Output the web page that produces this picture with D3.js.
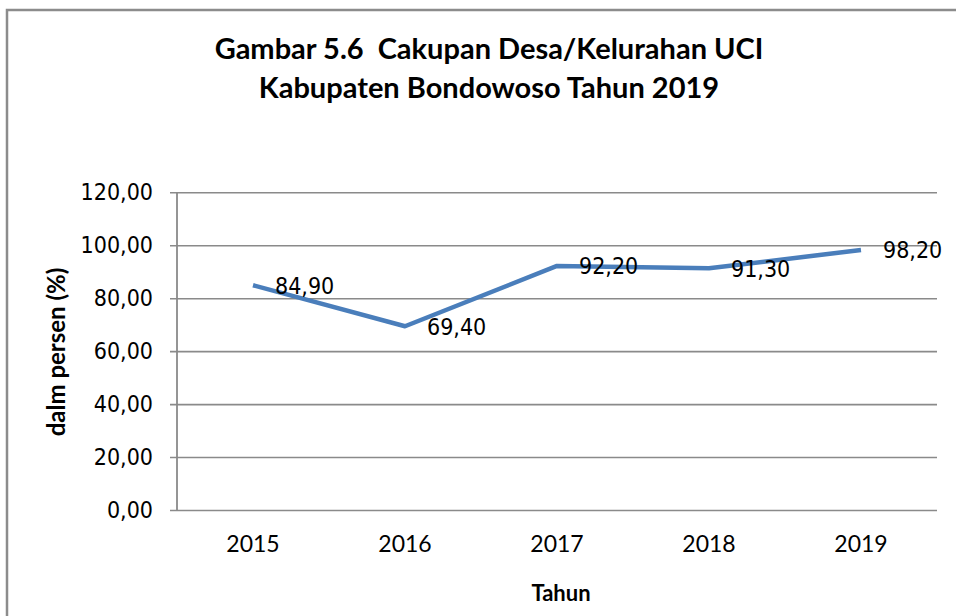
<!DOCTYPE html>
<html>
<head>
<meta charset="utf-8">
<script src="https://cdn.jsdelivr.net/npm/d3@7"></script>
<style>
  html, body { margin: 0; padding: 0; background: #fff; }
  #chart { width: 956px; height: 616px; }
</style>
</head>
<body>
<div id="chart"></div>
<script>
// Data
const years = ["2015", "2016", "2017", "2018", "2019"];
const cakupan = [84.90, 69.40, 92.20, 91.30, 98.20];
const yTicks = [0, 20, 40, 60, 80, 100, 120];
const titleLines = ["Gambar 5.6  Cakupan Desa/Kelurahan UCI", "Kabupaten Bondowoso Tahun 2019"];

const width = 956, height = 616;
const plot = { left: 177, right: 937, top: 192.3, bottom: 510 };

const colors = {
    frame: "#8c8c8c",
    grid: "#8a8a8a",
    line: "#4a7ebb",
    text: "#000"
};

const fmt = v => d3.format(".2f")(v).replace(".", ",");

const svg = d3.select("#chart").append("svg")
    .attr("width", width)
    .attr("height", height)
    .attr("viewBox", `0 0 ${width} ${height}`);

// Bingkai luar (terpotong di kanan & bawah)
svg.append("rect")
    .attr("x", 7).attr("y", 10)
    .attr("width", 1000).attr("height", 700)
    .style("fill", "#fff")
    .style("stroke", colors.frame)
    .style("stroke-width", 2.5);

// Skala
const x = d3.scaleBand().domain(years).range([plot.left, plot.right]);
const y = d3.scaleLinear().domain([0, 120]).range([plot.bottom, plot.top]);
const cx = d => x(d) + x.bandwidth() / 2;

// Grid + sumbu Y
const yAxis = svg.append("g")
    .attr("transform", `translate(${plot.left},0)`)
    .call(d3.axisLeft(y).tickValues(yTicks).tickFormat(fmt).tickSize(7).tickPadding(17))
    .call(g => g.select(".domain").remove());

yAxis.selectAll(".tick line")
    .attr("x2", plot.right - plot.left)
    .attr("x1", -7)
    .style("stroke", colors.grid)
    .style("stroke-width", 1.6);

yAxis.selectAll(".tick text")
    .style("font-family", "'DejaVu Sans Condensed', 'DejaVu Sans', sans-serif")
    .style("font-stretch", "condensed")
    .style("font-size", "23px")
    .style("fill", colors.text);

// Garis sumbu Y
svg.append("line")
    .attr("x1", plot.left).attr("x2", plot.left)
    .attr("y1", plot.top).attr("y2", plot.bottom)
    .style("stroke", colors.grid)
    .style("stroke-width", 1.8);

// Sumbu X (label tahun)
const xAxis = svg.append("g")
    .attr("transform", `translate(0,${plot.bottom})`)
    .call(d3.axisBottom(x).tickSize(0).tickPadding(0))
    .call(g => g.select(".domain").remove());

xAxis.selectAll(".tick text")
    .attr("dy", null)
    .attr("y", 42)
    .style("font-family", "Lato, 'Open Sans', sans-serif")
    .style("font-size", "23px")
    .style("fill", colors.text);

// Garis data
const line = d3.line()
    .x((d, i) => cx(years[i]))
    .y(d => y(d));

svg.append("path")
    .datum(cakupan)
    .attr("d", line)
    .style("fill", "none")
    .style("stroke", colors.line)
    .style("stroke-width", 4.5)
    .style("stroke-linejoin", "round");

// Label data (kanan titik)
svg.append("g").selectAll("text")
    .data(cakupan)
    .join("text")
    .attr("x", (d, i) => cx(years[i]) + 22)
    .attr("y", d => y(d))
    .attr("dy", "0.36em")
    .style("font-family", "'DejaVu Sans Condensed', 'DejaVu Sans', sans-serif")
    .style("font-stretch", "condensed")
    .style("font-size", "23px")
    .style("fill", colors.text)
    .text(d => fmt(d));

// Judul
svg.append("g").selectAll("text")
    .data(titleLines)
    .join("text")
    .attr("x", 489)
    .attr("y", (d, i) => 59 + i * 39)
    .attr("text-anchor", "middle")
    .style("white-space", "pre")
    .style("font-family", "Lato, 'Open Sans', sans-serif")
    .style("font-weight", "700")
    .style("font-size", "29px")
    .style("fill", colors.text)
    .text(d => d);

// Judul sumbu
svg.append("text")
    .attr("transform", `translate(57,352) rotate(-90)`)
    .attr("text-anchor", "middle")
    .attr("dy", "0.35em")
    .style("font-family", "Lato, 'Open Sans', sans-serif")
    .style("font-weight", "700")
    .style("font-size", "24px")
    .style("fill", colors.text)
    .text("dalm persen (%)");

svg.append("text")
    .attr("x", 561)
    .attr("y", 601)
    .attr("text-anchor", "middle")
    .style("font-family", "Lato, 'Open Sans', sans-serif")
    .style("font-weight", "700")
    .style("font-size", "22px")
    .style("fill", colors.text)
    .text("Tahun");
</script>
</body>
</html>
